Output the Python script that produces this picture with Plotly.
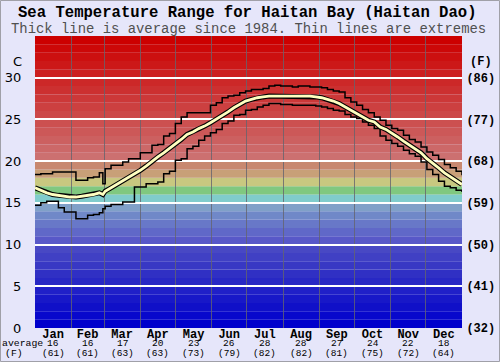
import plotly.graph_objects as go

# ---------------- data ----------------
days = [0, 5, 10, 15, 20, 25, 30, 35, 40, 45, 50, 55, 58, 60, 65, 70, 75, 80, 85, 90,
        95, 100, 105, 110, 115, 120, 125, 130, 135, 140, 145, 150, 155, 160, 165, 170,
        175, 180, 185, 190, 195, 200, 205, 210, 215, 220, 225, 230, 235, 240, 245, 250,
        255, 260, 265, 270, 275, 280, 285, 290, 295, 300, 305, 310, 315, 320, 325, 330,
        335, 340, 345, 350, 355, 360, 365]

avg_c = [16.8, 16.5, 16.2, 16.0, 15.9, 15.8, 15.7, 15.7, 15.8, 15.9, 16.0, 16.2, 16.0, 16.4,
         16.8, 17.2, 17.6, 18.0, 18.4, 18.9, 19.4, 20.0, 20.5, 21.0, 21.5, 22.0, 22.6, 23.2,
         23.5, 23.9, 24.2, 24.6, 25.0, 25.5, 25.9, 26.4, 26.8, 27.2, 27.4, 27.6, 27.7, 27.8,
         27.8, 27.8, 27.8, 27.8, 27.8, 27.8, 27.8, 27.7, 27.6, 27.4, 27.2, 26.9, 26.5, 26.1,
         25.8, 25.3, 24.9, 24.7, 24.1, 23.8, 23.4, 22.9, 22.4, 21.9, 21.4, 21.0, 20.3, 19.8,
         19.2, 18.6, 18.1, 17.6, 17.2]

max_c = [18.4, 18.5, 18.5, 18.7, 18.7, 18.7, 18.7, 17.7, 17.7, 18.0, 18.1, 18.6, 17.3, 19.1,
         19.5, 19.5, 19.9, 20.3, 20.3, 21.0, 21.0, 21.9, 22.0, 23.0, 23.3, 24.5, 25.3, 25.8,
         25.8, 25.8, 25.8, 26.7, 27.0, 27.6, 27.8, 27.9, 28.2, 28.4, 28.6, 28.6, 28.7, 29.0,
         29.1, 29.0, 29.0, 28.9, 29.0, 29.0, 28.9, 28.9, 28.8, 28.6, 28.4, 28.3, 27.6, 27.1,
         26.7, 26.2, 25.8, 25.3, 24.9, 24.3, 23.9, 23.7, 23.1, 22.6, 22.3, 21.7, 21.1, 20.7,
         20.2, 19.6, 19.2, 18.8, 18.3]

min_c = [14.7, 15.0, 15.2, 15.2, 14.4, 13.9, 13.9, 13.1, 13.1, 13.5, 13.6, 13.8, 14.3, 14.6,
         14.8, 14.8, 15.1, 15.1, 16.9, 16.9, 17.3, 17.3, 17.5, 18.5, 18.8, 20.1, 20.3, 21.5,
         21.8, 22.5, 23.0, 23.4, 23.8, 24.5, 24.8, 25.5, 25.6, 26.1, 26.2, 26.5, 26.7, 26.9,
         26.9, 26.8, 26.8, 26.7, 26.7, 26.7, 26.7, 26.6, 26.5, 26.3, 26.1, 26.0, 25.6, 25.3,
         25.1, 24.7, 24.3, 23.9, 23.0, 22.5, 22.1, 21.8, 21.3, 20.9, 20.6, 19.9, 19.0, 18.4,
         17.6, 17.0, 16.8, 16.5, 16.3]

month_starts = [0, 31, 59, 90, 120, 151, 181, 212, 243, 273, 304, 334, 365]
month_names = ["Jan", "Feb", "Mar", "Apr", "May", "Jun", "Jul", "Aug", "Sep", "Oct", "Nov", "Dec"]
month_avg_c = ["16", "16", "17", "20", "23", "26", "28", "28", "27", "24", "22", "18"]
month_avg_f = ["(61)", "(61)", "(63)", "(63)", "(73)", "(79)", "(82)", "(82)", "(81)", "(75)", "(72)", "(64)"]

c_ticks = [0, 5, 10, 15, 20, 25, 30]
f_ticks = [32, 41, 50, 59, 68, 77, 86]
f_labels = ["(32)", "(41)", "(50)", "(59)", "(68)", "(77)", "(86)"]

band_colors = [
    "rgb(0,0,204)", "rgb(8,8,204)", "rgb(16,16,200)", "rgb(24,24,200)", "rgb(32,32,200)",
    "rgb(40,40,196)", "rgb(48,48,196)", "rgb(56,56,196)", "rgb(64,64,196)", "rgb(72,72,196)",
    "rgb(88,88,200)", "rgb(96,104,200)", "rgb(104,120,200)", "rgb(112,136,200)", "rgb(128,160,200)",
    "rgb(128,204,204)", "rgb(128,200,128)", "rgb(200,200,128)", "rgb(200,160,120)", "rgb(200,136,112)",
    "rgb(204,112,112)", "rgb(204,104,104)", "rgb(204,96,96)", "rgb(204,88,88)", "rgb(204,80,80)",
    "rgb(204,72,72)", "rgb(204,64,64)", "rgb(204,56,56)", "rgb(204,48,48)", "rgb(204,40,40)",
    "rgb(204,32,32)", "rgb(204,24,24)", "rgb(204,16,16)", "rgb(204,8,8)", "rgb(204,0,0)",
]

# ---------------- layout geometry ----------------
W, H = 500, 362
L, R, T, B = 35, 38, 36, 34
PW, PH = W - L - R, H - T - B
MONO = "Liberation Mono, Courier New, monospace"


def px_x(px):
    return (px - L) / PW


def px_y(py):
    return (H - B - py) / PH


month_mids = [(a + b) / 2 for a, b in zip(month_starts[:-1], month_starts[1:])]
avg_f = [c * 9 / 5 + 32 for c in avg_c]

fig = go.Figure()

for i, col in enumerate(band_colors):
    fig.add_shape(type="rect", xref="paper", yref="y", x0=0, x1=1, y0=i, y1=i + 1,
                  fillcolor=col, line_width=0, layer="below")

fig.add_trace(go.Scatter(x=days, y=max_c, mode="lines", hoverinfo="skip",
                         line=dict(color="black", width=1.5, shape="hv"), showlegend=False))
fig.add_trace(go.Scatter(x=days, y=min_c, mode="lines", hoverinfo="skip",
                         line=dict(color="black", width=1.5, shape="hv"), showlegend=False))
fig.add_trace(go.Scatter(x=days, y=avg_c, mode="lines", hoverinfo="skip",
                         line=dict(color="black", width=5), showlegend=False))
fig.add_trace(go.Scatter(x=days, y=avg_c, mode="lines", hoverinfo="skip",
                         line=dict(color="#ffffc0", width=2.8), showlegend=False))
# invisible copy of the average in Fahrenheit, so the right-hand (F) axis is drawn
fig.add_trace(go.Scatter(x=days, y=avg_f, yaxis="y2", mode="lines", hoverinfo="skip",
                         opacity=0, line=dict(width=0), showlegend=False))

fig.update_layout(
    width=W, height=H,
    margin=dict(l=L, r=R, t=T, b=B, pad=0, autoexpand=False),
    paper_bgcolor="#e6e6fa",
    plot_bgcolor="#e6e6fa",
    showlegend=False,
    xaxis=dict(
        range=[0, 365], tickvals=month_mids, ticktext=month_names, automargin=False,
        tickfont=dict(family=MONO, size=12, color="black", weight="bold"),
        ticks="", ticklabelstandoff=-3,
        showgrid=False, zeroline=False, showline=False, fixedrange=True,
        minor=dict(tickvals=month_starts, showgrid=True, gridcolor="rgba(100,100,110,0.8)",
                   gridwidth=1, ticks=""),
    ),
    yaxis=dict(
        range=[0, 35], tickvals=c_ticks, ticktext=[str(v) for v in c_ticks], automargin=False,
        tickfont=dict(family="DejaVu Sans", size=13, color="black"),
        ticks="outside", ticklen=10, tickcolor="rgba(0,0,0,0)",
        showgrid=True, gridcolor="white", gridwidth=2, zeroline=False, showline=False,
    ),
    yaxis2=dict(
        range=[32, 95], overlaying="y", side="right", anchor="x", automargin=False,
        tickvals=f_ticks, ticktext=f_labels,
        tickfont=dict(family=MONO, size=12, color="black", weight="bold"),
        ticks="outside", ticklen=1, tickcolor="rgba(0,0,0,0)",
        showgrid=False, zeroline=False, showline=False,
    ),
)

annotations = []
for m, c, f in zip(month_mids, month_avg_c, month_avg_f):
    annotations.append(dict(x=m, xref="x", y=px_y(343.5), yref="paper", text=c, showarrow=False,
                            xanchor="center", yanchor="middle", borderpad=0,
                            font=dict(family=MONO, size=9.5, color="black")))
    annotations.append(dict(x=m, xref="x", y=px_y(353), yref="paper", text=f, showarrow=False,
                            xanchor="center", yanchor="middle", borderpad=0,
                            font=dict(family=MONO, size=9.5, color="black")))

annotations += [
    dict(x=px_x(22), y=px_y(343.5), xref="paper", yref="paper", text="average", showarrow=False,
         xanchor="center", yanchor="middle", font=dict(family=MONO, size=9.8, color="black")),
    dict(x=px_x(14), y=px_y(353), xref="paper", yref="paper", text="(F)", showarrow=False,
         xanchor="center", yanchor="middle", font=dict(family=MONO, size=9.8, color="black")),
    dict(x=px_x(17.5), y=px_y(61), xref="paper", yref="paper", text="C", showarrow=False,
         xanchor="center", yanchor="middle", font=dict(family="DejaVu Sans", size=13, color="black")),
    dict(x=px_x(481), y=px_y(62), xref="paper", yref="paper", text="(F)", showarrow=False,
         xanchor="center", yanchor="middle", font=dict(family=MONO, size=12, color="black", weight="bold")),
    dict(x=px_x(247.5), y=px_y(13), xref="paper", yref="paper",
         text="Sea Temperature Range for Haitan Bay (Haitan Dao)", showarrow=False,
         xanchor="center", yanchor="middle",
         font=dict(family=MONO, size=15.6, color="black", weight="bold")),
    dict(x=px_x(248.5), y=px_y(28.5), xref="paper", yref="paper",
         text="Thick line is average since 1984. Thin lines are extremes", showarrow=False,
         xanchor="center", yanchor="middle",
         font=dict(family=MONO, size=13.9, color="#505050")),
]
fig.update_layout(annotations=annotations)

fig.add_shape(type="rect", xref="paper", yref="paper",
              x0=px_x(0.5), x1=px_x(W - 0.5), y0=px_y(H - 0.5), y1=px_y(0.5),
              line=dict(color="#a0a0a8", width=1), fillcolor="rgba(0,0,0,0)", layer="below")

fig.write_html("out.html", config={"displayModeBar": False},
               post_script="document.body.style.margin='0';document.body.style.padding='0';")
